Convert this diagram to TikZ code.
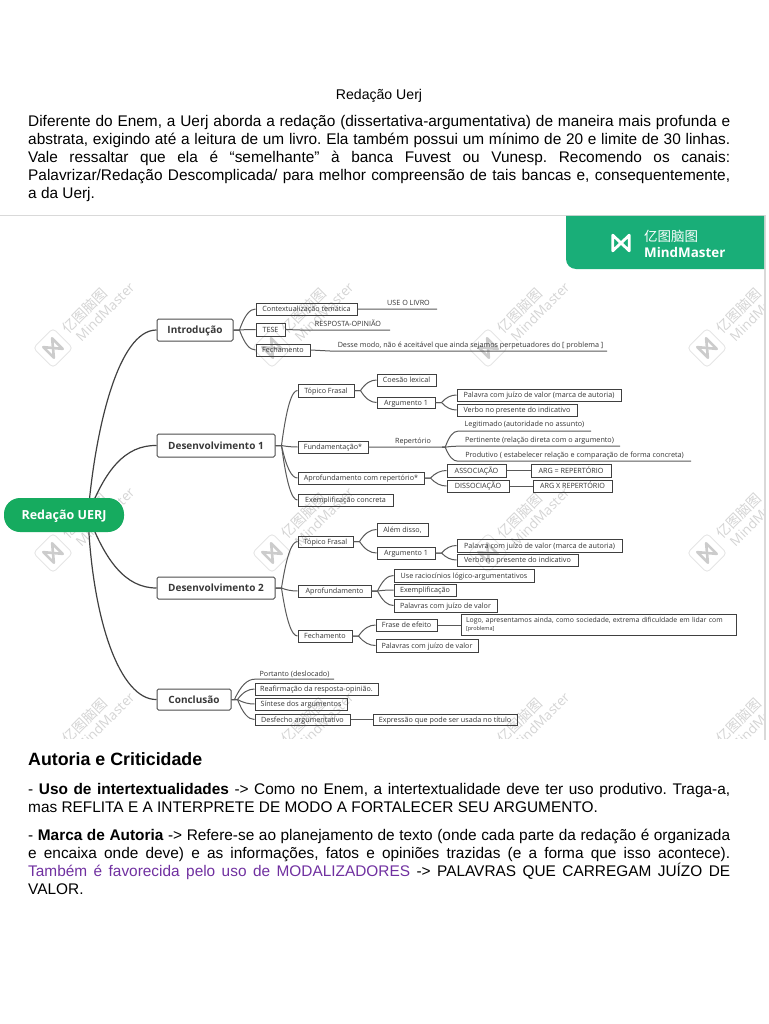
\documentclass[tikz,border=0pt]{standalone}
\usepackage{fontspec}
\setmainfont{Liberation Sans}
\newfontfamily\mmfont{Open Sans}
\newfontfamily\cjk{Noto Sans CJK SC}
\usepackage{xcolor}
\usetikzlibrary{calc,backgrounds}
\definecolor{mmgreen}{HTML}{19AE78}
\definecolor{rootgreen}{HTML}{16AB5F}
\definecolor{lilac}{HTML}{7030A0}
\newcommand{\fan}[2]{
 \coordinate (fk) at ($(#1)+(6,0)$);
 \coordinate (fkm) at ($(fk)!.45!(#2.west)$);
 \draw[branch] (#1) -- (fk) .. controls ($(fk)!.7!(fkm |- #2.west)$) and ($(fkm |- #2.west)!.35!(#2.west)$) .. (#2.west);
}
\newcommand{\mmicon}[1]{\draw[#1,line join=round] (-5,-6)--(-5,6)--(5,-6)--(5,6)--cycle;}
\begin{document}
\frenchspacing\hyphenpenalty=10000
\begin{tikzpicture}[x=1pt,y=-1pt,
 para/.style={anchor=north west,inner sep=0pt,text width=702pt,align=justify,font=\fontsize{15.4}{18}\selectfont},
 mainbox/.style={draw=black!70,rounded corners=1.5pt,line width=1pt,inner sep=0pt,text height=8.7pt,text depth=1.3pt,text=black!78,font=\mmfont\fontsize{10}{12}\selectfont\bfseries},
 leaf/.style={draw=black!75,line width=1pt,inner sep=0pt,text height=5.8pt,text depth=.8pt,text=black!80,font=\mmfont\fontsize{7.2}{9}\selectfont},
 lineleaf/.style={inner sep=0pt,text height=5.8pt,text depth=.8pt,text=black!80,font=\mmfont\fontsize{7.2}{9}\selectfont},
 branch/.style={draw=black!65,line width=1pt},
 trunk/.style={draw=black!75,line width=1.2pt},
 wmtext/.style={rotate=45,inner sep=0pt,text=black!17}]
\useasboundingbox (0,0) rectangle (768,1024);
% page text
\node[font=\fontsize{14.1}{16}\selectfont] (title) at (379,96) {Redação Uerj};
\node[para] (intro text) at (28,115.5) {Diferente do Enem, a Uerj aborda a redação (dissertativa-argumentativa) de maneira mais profunda e\linebreak abstrata, exigindo até a leitura de um livro. Ela também possui um mínimo de 20 e limite de 30 linhas.\linebreak Vale ressaltar que ela é “semelhante” à banca Fuvest ou Vunesp. Recomendo os canais:\linebreak Palavrizar/Redação Descomplicada/ para melhor compreensão de tais bancas e, consequentemente,\linebreak a da Uerj.};
\node[anchor=west,inner sep=0pt,font=\fontsize{17.8}{20}\selectfont\bfseries] (autoria) at (28,759) {Autoria e Criticidade};
\node[para] (uso text) at (28,783.5) {- \textbf{Uso de intertextualidades} -> Como no Enem, a intertextualidade deve ter uso produtivo. Traga-a,\linebreak mas REFLITA E A INTERPRETE DE MODO A FORTALECER SEU ARGUMENTO.};
\node[para] (marca text) at (28,829) {- \textbf{Marca de Autoria} -> Refere-se ao planejamento de texto (onde cada parte da redação é organizada\linebreak e encaixa onde deve) e as informações, fatos e opiniões trazidas (e a forma que isso acontece).\linebreak \textcolor{lilac}{Também é favorecida pelo uso de MODALIZADORES} -> PALAVRAS QUE CARREGAM JUÍZO DE\linebreak VALOR.};
% frame and header
\draw[black!15,line width=1.4pt] (0,215.5)--(765,215.5)--(765,740);
\fill[mmgreen] (566,216)--(764,216)--(764,269)--(576,269) arc[start angle=90,end angle=180,radius=10pt,y radius=-10pt]--cycle;
\begin{scope}[shift={(621,243)},xscale=1.65,yscale=1.3]
\mmicon{white,line width=2.8pt}
\end{scope}
\node[text=white,inner sep=0pt,anchor=west,font=\cjk\fontsize{13.5}{14}\selectfont] (brand cn) at (644,236) {亿图脑图};
\node[text=white,inner sep=0pt,anchor=west,font=\mmfont\fontsize{13.4}{14}\selectfont\bfseries] (brand en) at (644,252) {MindMaster};
% central topic
\node[fill=rootgreen,rounded corners=16pt,minimum width=120pt,minimum height=34pt,inner sep=0pt,text height=9pt,text depth=0pt,text=white,font=\mmfont\fontsize{12.5}{14}\selectfont\bfseries] (root) at (64,515) {Redação UERJ};
% main topics
\foreach \n/\xa/\xb/\ya/\yb/\t in {intro/157/233/319/341/Introdução,dev1/157/275/434/457/Desenvolvimento 1,dev2/157/275/577/599/Desenvolvimento 2,concl/157/231/689/710/Conclusão}
 \node[mainbox,minimum width={(\xb-\xa)*1pt},minimum height={(\yb-\ya)*1pt}] (\n) at ({(\xa+\xb)/2},{(\ya+\yb)/2}) {\t};
% boxed leaves
\foreach \n/\xa/\xb/\ya/\yb/\t in {
 ctx/256/357/303/315/Contextualização temática,tese/256/285/323/336/TESE,fecha/256/310/344/356/Fechamento,
 topa/298/354/384/397/Tópico Frasal,funda/298/368/441/453/Fundamentação*,aprofa/298/424/472/484/Aprofundamento com repertório*,exa/298/393/494/506/Exemplificação concreta,
 coesao/377/436/374/386/Coesão lexical,arga/377/435/397/408/Argumento 1,
 palaa/457/621/389/401/Palavra com juízo de valor (marca de autoria),verba/457/577/404/416/Verbo no presente do indicativo,
 assoc/447/506/464/477/ASSOCIAÇÃO,dissoc/447/509/480/492/DISSOCIAÇÃO,argig/531/611/464/477/ARG = REPERTÓRIO,argx/533/612/480/492/ARG X REPERTÓRIO,
 topb/298/353/536/547/Tópico Frasal,aprofb/298/371/585/597/Aprofundamento,fechb/298/352/630/642/Fechamento,
 alem/377/428/523/536/{Além disso,},argb/377/435/547/559/Argumento 1,
 palab/457/622/539/552/Palavra com juízo de valor (marca de autoria),verbb/457/578/554/566/Verbo no presente do indicativo,
 racio/394/534/569/582/Use raciocínios lógico-argumentativos,exb/394/456/584/596/Exemplificação,palc/394/497/599/612/Palavras com juízo de valor,
 frase/376/437/619/631/Frase de efeito,pald/376/478/639/652/Palavras com juízo de valor,
 reaf/255/378/683/695/Reafirmação da resposta-opinião.,sint/255/347/698/710/Síntese dos argumentos,desf/255/350/714/725/Desfecho argumentativo,expr/373/517/714/725/Expressão que pode ser usada no título}
 \node[leaf,minimum width={(\xb-\xa)*1pt},minimum height={(\yb-\ya)*1pt}] (\n) at ({(\xa+\xb)/2},{(\ya+\yb)/2}) {\t};
\node[draw=black!75,line width=1pt,text=black!80,inner ysep=0pt,minimum width=275pt,minimum height=21pt,align=left,inner xsep=5pt,text width=265pt,font=\mmfont\fontsize{6.9}{8.5}\selectfont] (logo) at (598.5,624.5) {Logo, apresentamos ainda, como sociedade, extrema dificuldade em lidar com\\{\fontsize{5.5}{6}\selectfont [problema]}};
% leaves sitting on a line
\foreach \n/\xa/\xb/\ya/\yb/\t in {
 livro/380/437/297/309/USE O LIVRO,resp/306/390/318/330/RESPOSTA-OPINIÃO,desse/334/607/339/351/{Desse modo, não é aceitável que ainda sejamos perpetuadores do [ problema ]},
 rep/384/442/435/447/Repertório,
 legit/458/591/417/431/Legitimado (autoridade no assunto),perti/459/620/434/446/Pertinente (relação direta com o argumento),produ/458/691/449/461/Produtivo ( estabelecer relação e comparação de forma concreta),
 port/255/334/669/679/Portanto (deslocado)}
 \node[lineleaf,minimum width={(\xb-\xa)*1pt},minimum height={(\yb-\ya)*1pt}] (\n) at ({(\xa+\xb)/2},{(\ya+\yb)/2}) {\t};
% fans
\foreach \p/\c in {intro.east/ctx,intro.east/tese,intro.east/fecha,
 dev1.east/topa,dev1.east/funda,dev1.east/aprofa,dev1.east/exa,topa.east/coesao,topa.east/arga,arga.east/palaa,arga.east/verba,aprofa.east/assoc,aprofa.east/dissoc,
 dev2.east/topb,dev2.east/aprofb,dev2.east/fechb,topb.east/alem,topb.east/argb,argb.east/palab,argb.east/verbb,aprofb.east/racio,aprofb.east/exb,aprofb.east/palc,fechb.east/frase,fechb.east/pald,
 concl.east/reaf,concl.east/sint,concl.east/desf}
 {\fan{\p}{\c}}
\foreach \p/\c in {rep.south east/legit,rep.south east/perti,rep.south east/produ,concl.east/port}
 {\coordinate (fk) at ($(\p)+(3,0)$);
  \coordinate (fkm) at ($(fk)!.45!(\c.south west)$);
  \draw[branch] (\p) -- (fk) .. controls ($(fk)!.7!(fkm |- \c.south west)$) and ($(fkm |- \c.south west)!.35!(\c.south west)$) .. (\c.south west) -- (\c.south east);}
% straight links
\foreach \a/\b in {ctx/livro,tese/resp,fecha/desse,funda/rep}
 \draw[branch] (\a.east) -- (\b.south west) -- (\b.south east);
\foreach \a/\b in {assoc/argig,dissoc/argx,frase/logo,desf/expr}
 \draw[branch] (\a.east) -- (\a.east -| \b.west);
\begin{scope}[on background layer]
% watermarks
\begin{scope}
\clip (0,216) rectangle (764,738);
\foreach \wy in {348,553,758}
 \foreach \wx in {53,272,488,707}{
  \begin{scope}[shift={(\wx,\wy)},rotate=45]
  \draw[black!10,line width=.9pt,rounded corners=4pt] (-14,-14) rectangle (14,14);
  \begin{scope}[scale=1.25]
  \mmicon{black!20,line width=2.6pt}
  \end{scope}
  \end{scope}
  \node[wmtext,font=\cjk\fontsize{14}{15}\selectfont] (cn\wx\wy) at (\wx+32,\wy-37) {亿图脑图};
  \node[wmtext,font=\mmfont\fontsize{13.5}{15}\selectfont] (en\wx\wy) at (\wx+52,\wy-36) {MindMaster};
 }
\end{scope}
\coordinate (hub) at (88,515);
\draw[trunk] (hub) .. controls (95,430) and (118,330) .. (intro.west);
\draw[trunk] (hub) .. controls (105,470) and (125,445) .. (dev1.west);
\draw[trunk] (hub) .. controls (105,560) and (125,588) .. (dev2.west);
\draw[trunk] (hub) .. controls (92,620) and (120,700) .. (concl.west);
\end{scope}
\end{tikzpicture}
\end{document}
